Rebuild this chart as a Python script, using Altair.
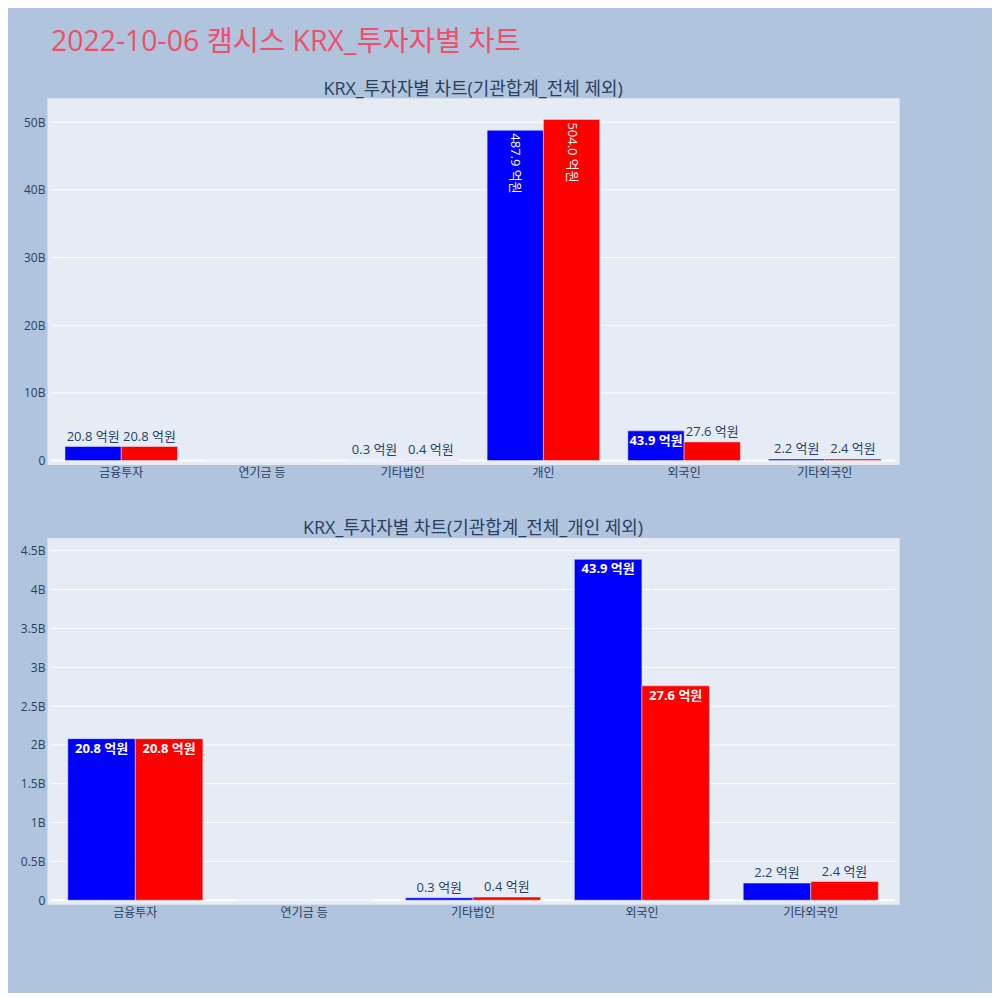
import altair as alt
import pandas as pd

# ---------------- data ----------------
main_title = "2022-10-06 캠시스 KRX_투자자별 차트"
subtitles = ["KRX_투자자별 차트(기관합계_전체 제외)", "KRX_투자자별 차트(기관합계_전체_개인 제외)"]
categories = ["금융투자", "연기금 등", "기타법인", "개인", "외국인", "기타외국인"]
series_names = ["매도", "매수"]
series_colors = ["#0000FF", "#FF0000"]
blue_eok = [20.8, 0.0, 0.3, 487.9, 43.9, 2.2]
red_eok = [20.8, 0.0, 0.4, 504.0, 27.6, 2.4]
excluded_in_second = ["개인"]
top_ticks_b = [0, 10, 20, 30, 40, 50]
bottom_ticks_b = [0, 0.5, 1, 1.5, 2, 2.5, 3, 3.5, 4, 4.5]
top_max_b = 53.0
bottom_max_b = 4.62

# ---------------- style ----------------
FONT = "Open Sans, Noto Sans CJK KR, sans-serif"
TEXT_COLOR = "#2a3f5f"
TITLE_COLOR = "#EF4F69"
PAGE_BG = "#B0C4DE"
PLOT_BG = "#E5ECF6"
W = 854
H = 367.5
PLOT_TOP = 4
PLOT_BOTTOM = H - 4
PLOT_LEFT = 4
PLOT_RIGHT = W - 4
LABEL_SIZE = 13


def build_rows(cats, max_b):
    rows = []
    step = (PLOT_RIGHT - PLOT_LEFT) / len(cats)
    bar_w = step * 0.8 / 2
    px_per_unit = (PLOT_BOTTOM - PLOT_TOP) / (max_b * 1e9)
    for c in cats:
        i = categories.index(c)
        for s, eok in zip(series_names, (blue_eok[i], red_eok[i])):
            value = eok * 1e8
            label = f"{eok:.1f} 억원" if eok > 0 else ""
            px = value * px_per_unit
            text_w = 7.3 * len(label)
            if not label:
                mode = "none"
            elif px > 22 and text_w <= bar_w - 2:
                mode = "inside"
            elif px > 70:
                mode = "rotated"
            else:
                mode = "outside"
            rows.append(dict(category=c, series=s, value=value, label=label, mode=mode))
    return pd.DataFrame(rows)


def panel(cats, max_b, ticks_b, subtitle, with_main_title):
    df = build_rows(cats, max_b)
    step = (PLOT_RIGHT - PLOT_LEFT) / len(cats)
    bandwidth = step * 0.8
    x = alt.X(
        "category:N",
        sort=cats,
        scale=alt.Scale(domain=cats, range=[PLOT_LEFT, PLOT_RIGHT], paddingInner=0.2, paddingOuter=0.1),
        axis=alt.Axis(title=None, labelAngle=0, ticks=False, tickSize=0, domain=False, grid=False,
                      labelPadding=3, labelFontSize=12, labelColor=TEXT_COLOR, labelFont=FONT),
    )
    xo = alt.XOffset("series:N", sort=series_names,
                     scale=alt.Scale(domain=series_names, range=[0, bandwidth],
                                     paddingInner=0, paddingOuter=0))
    y = alt.Y(
        "value:Q",
        scale=alt.Scale(domain=[0, max_b * 1e9], range=[PLOT_BOTTOM, PLOT_TOP], nice=False, zero=False),
        axis=alt.Axis(title=None, values=[t * 1e9 for t in ticks_b],
                      labelExpr="datum.value == 0 ? '0' : format(datum.value / 1e9, '~g') + 'B'",
                      grid=False, ticks=False, tickSize=0, domain=False, labelPadding=2,
                      labelFontSize=12, labelColor=TEXT_COLOR, labelFont=FONT,
                      minExtent=30, maxExtent=30),
    )
    grid_df = pd.DataFrame({"value": [t * 1e9 for t in ticks_b if t != 0]})
    grid = alt.Chart(grid_df).mark_rule(color="white", strokeWidth=1).encode(
        y=y, x=alt.value(PLOT_LEFT), x2=alt.value(PLOT_RIGHT))
    zero = alt.Chart(pd.DataFrame({"value": [0.0]})).mark_rule(color="white", strokeWidth=2).encode(
        y=y, x=alt.value(PLOT_LEFT), x2=alt.value(PLOT_RIGHT))
    bars = alt.Chart(df).mark_bar(stroke=PLOT_BG, strokeWidth=0.5).encode(
        x=x, xOffset=xo, y=y,
        color=alt.Color("series:N", scale=alt.Scale(domain=series_names, range=series_colors), legend=None),
    )
    layers = [grid, zero, bars]

    styles = {
        "outside": dict(baseline="bottom", dy=-3, fontSize=LABEL_SIZE, color=TEXT_COLOR, font=FONT),
        "inside": dict(baseline="top", dy=4, fontSize=LABEL_SIZE, fontWeight="bold", color="white", font=FONT),
        "rotated": dict(angle=90, align="left", baseline="middle", dx=3, fontSize=LABEL_SIZE,
                        color="white", font=FONT),
    }
    for mode, st in styles.items():
        sub = df[df["mode"] == mode]
        if len(sub):
            layers.append(alt.Chart(sub).mark_text(**st).encode(x=x, xOffset=xo, y=y, text="label:N"))

    sub_t = alt.Chart(pd.DataFrame({"t": [subtitle]})).mark_text(
        fontSize=18, color=TEXT_COLOR, font=FONT, align="center", baseline="middle"
    ).encode(text="t:N", x=alt.value(W / 2), y=alt.value(-8))
    layers.append(sub_t)
    if with_main_title:
        mt = alt.Chart(pd.DataFrame({"t": [main_title]})).mark_text(
            fontSize=28.5, color=TITLE_COLOR, font=FONT, align="left", baseline="middle"
        ).encode(text="t:N", x=alt.value(4), y=alt.value(-56))
        layers.append(mt)
    return alt.layer(*layers).properties(width=W, height=H)


top = panel(categories, top_max_b, top_ticks_b, subtitles[0], True)
second_cats = [c for c in categories if c not in excluded_in_second]
bottom = panel(second_cats, bottom_max_b, bottom_ticks_b, subtitles[1], False)

chart = alt.vconcat(top, bottom, spacing=72.5, bounds="flush").resolve_scale(
    x="independent", xOffset="independent", y="independent"
).properties(
    background=PAGE_BG,
    padding={"left": 8, "top": 18, "right": 92, "bottom": 73},
).configure_view(stroke="transparent", fill=PLOT_BG)

chart.save("out.html", embed_options={"renderer": "svg", "actions": False})
